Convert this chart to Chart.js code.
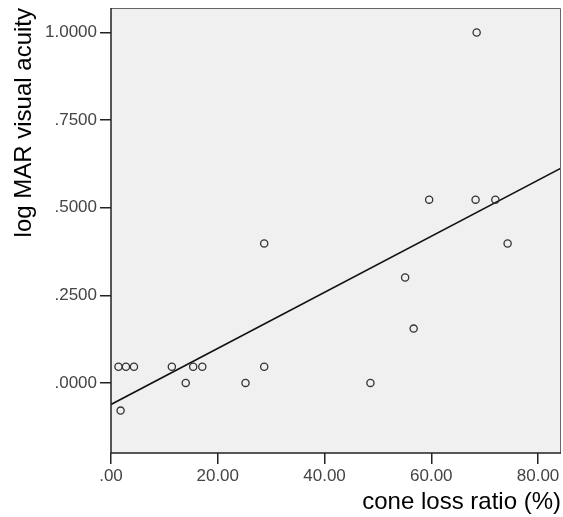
<!DOCTYPE html>
<html>
<head>
<meta charset="utf-8">
<script src="https://cdn.jsdelivr.net/npm/chart.js@4/dist/chart.umd.min.js"></script>
<style>
  html, body { margin: 0; padding: 0; background: #fff; }
  #wrap { width: 563px; height: 517px; }
</style>
</head>
<body>
<div id="wrap"><canvas id="canvas1"></canvas></div>
<script>
// Data
let coneLoss = [1.4, 2.8, 4.3, 11.4, 14.0, 15.4, 17.1, 25.2, 28.7, 1.8, 28.7, 48.6, 55.1, 56.7, 59.6, 68.3, 68.5, 72.0, 74.3];
let logMAR   = [0.046, 0.046, 0.046, 0.046, 0.0, 0.046, 0.046, 0.0, 0.046, -0.079, 0.398, 0.0, 0.301, 0.155, 0.523, 0.523, 1.0, 0.523, 0.398];
let xTicks = [0, 20, 40, 60, 80];
let yTicks = [0, 0.25, 0.5, 0.75, 1.0];
let xMin = 0, xMax = 84.3;
let yMin = -0.2, yMax = 1.07;

// least squares fit line
let n = coneLoss.length;
let mx = coneLoss.reduce((a, b) => a + b, 0) / n;
let my = logMAR.reduce((a, b) => a + b, 0) / n;
let sxy = 0, sxx = 0;
for (let i = 0; i < n; i++) {
    sxy += (coneLoss[i] - mx) * (logMAR[i] - my);
    sxx += (coneLoss[i] - mx) * (coneLoss[i] - mx);
}
let slope = sxy / sxx;
let intercept = my - slope * mx;

let points = coneLoss.map((v, i) => ({ x: v, y: logMAR[i] }));
let fitLine = [xMin, xMax].map(v => ({ x: v, y: intercept + slope * v }));

// plot background + frame
let framePlugin = {
    id: "frame",
    beforeDatasetsDraw(chart) {
        let { ctx, chartArea: a } = chart;
        ctx.save();
        ctx.fillStyle = "#f0f0f0";
        ctx.fillRect(a.left, a.top, a.right - a.left, a.bottom - a.top);
        ctx.restore();
    },
    afterDatasetsDraw(chart) {
        let { ctx, chartArea: a } = chart;
        ctx.save();
        ctx.lineWidth = 1;
        ctx.strokeStyle = "#666";
        ctx.beginPath();
        ctx.moveTo(a.left, a.top + 0.5);
        ctx.lineTo(a.right - 0.5, a.top + 0.5);
        ctx.lineTo(a.right - 0.5, a.bottom);
        ctx.stroke();
        ctx.strokeStyle = "#222";
        ctx.lineWidth = 1.5;
        ctx.beginPath();
        ctx.moveTo(a.left, a.top);
        ctx.lineTo(a.left, a.bottom);
        ctx.lineTo(a.right, a.bottom);
        ctx.stroke();
        ctx.restore();
    }
};

Chart.defaults.font.family = "'Liberation Sans', Arial, sans-serif";

let myChart1 = document.querySelector("#canvas1").getContext("2d");

let scatterChart = new Chart(myChart1, {
    type: "scatter",
    data: {
        datasets: [{
            label: "log MAR",
            data: points,
            pointRadius: 3.6,
            pointBorderWidth: 1.3,
            pointBorderColor: "#333",
            pointBackgroundColor: "rgba(0,0,0,0)",
            showLine: false
        }, {
            label: "fit",
            data: fitLine,
            showLine: true,
            borderColor: "#111",
            borderWidth: 1.6,
            pointRadius: 0
        }]
    },
    options: {
        responsive: true,
        maintainAspectRatio: false,
        animation: false,
        layout: { autoPadding: false, padding: { top: 8, right: 2, left: 0, bottom: 0 } },
        plugins: {
            legend: { display: false },
            tooltip: { enabled: false }
        },
        scales: {
            x: {
                type: "linear",
                min: xMin,
                max: xMax,
                afterFit: s => { s.height = 64; s.paddingLeft = 0; s.paddingRight = 0; },
                afterBuildTicks: s => { s.ticks = xTicks.map(v => ({ value: v })); },
                ticks: {
                    padding: 2,
                    color: "#444",
                    font: { size: 17 },
                    maxRotation: 0,
                    callback: v => v.toFixed(2).replace(/^0\./, ".")
                },
                grid: { drawOnChartArea: false, drawTicks: true, tickLength: 11, color: "#222", lineWidth: 1.5 },
                border: { display: false },
                title: {
                    display: true,
                    text: "cone loss ratio (%)",
                    align: "end",
                    color: "#000",
                    font: { size: 24 },
                    padding: { top: 0, bottom: 0 }
                }
            },
            y: {
                type: "linear",
                min: yMin,
                max: yMax,
                afterFit: s => { s.width = 111; s.paddingTop = 0; s.paddingBottom = 0; },
                afterBuildTicks: s => { s.ticks = yTicks.map(v => ({ value: v })); },
                ticks: {
                    padding: 3,
                    color: "#444",
                    font: { size: 17 },
                    callback: v => v.toFixed(4).replace(/^0\./, ".")
                },
                grid: { drawOnChartArea: false, drawTicks: true, tickLength: 11, color: "#222", lineWidth: 1.5 },
                border: { display: false },
                title: {
                    display: true,
                    text: "log MAR visual acuity",
                    align: "end",
                    color: "#000",
                    font: { size: 24 },
                    padding: { top: 10, bottom: 0 }
                }
            }
        }
    },
    plugins: [framePlugin]
});
</script>
</body>
</html>
